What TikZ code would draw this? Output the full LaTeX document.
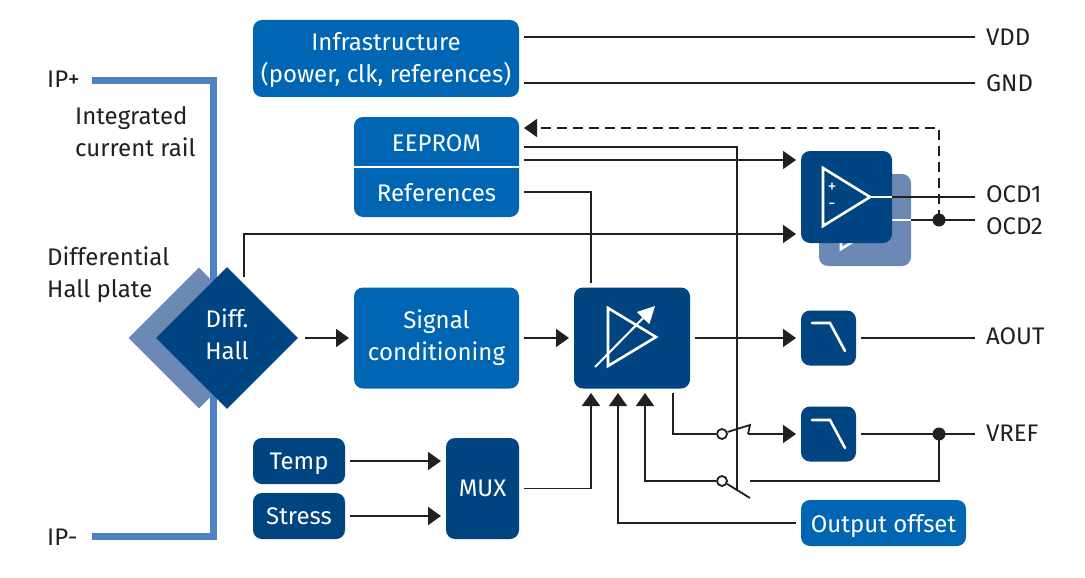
\documentclass[tikz,border=0pt]{standalone}
\usepackage{fontspec}
\setmainfont{Fira Sans}
\usetikzlibrary{arrows.meta,shapes.geometric}
\definecolor{ifxblue}{HTML}{0066B3}
\definecolor{ifxdark}{HTML}{004481}
\definecolor{ifxpale}{HTML}{6C88B5}
\definecolor{ifxrail}{HTML}{4F81C4}
\definecolor{ifxtext}{HTML}{231F20}
\tikzset{>={Triangle[length=13pt,width=18pt]}}
\tikzset{
  box/.style={rectangle,rounded corners=9pt,inner sep=0pt,outer sep=5pt,text=white,align=center,
    font=\fontsize{24}{32}\selectfont},
  oneline/.style={text depth=0pt},
  bluebox/.style={box,fill=ifxblue},
  darkbox/.style={box,fill=ifxdark},
  boxtext/.style={inner sep=0pt,text=white,align=center,font=\fontsize{24}{32}\selectfont},
  extlabel/.style={anchor=west,inner sep=0pt,outer sep=11pt,text=ifxtext,font=\fontsize{24}{32}\selectfont},
  note/.style={anchor=west,inner sep=0pt,align=left,text=ifxtext,font=\fontsize{24}{32}\selectfont},
  conn/.style={line width=1.8pt,draw=ifxtext},
  symbol/.style={draw=white,line width=2.6pt},
  contact/.style={circle,draw=ifxtext,line width=1.8pt,fill=white,minimum size=10pt,inner sep=0pt},
}
\begin{document}
\begin{tikzpicture}[x=1pt,y=-1pt]
	\useasboundingbox (0,0) rectangle (1085,578);
	% current rail and hall plate
	\draw[ifxrail,line width=7pt] (92,81) -- (213,81) -- (213,536) -- (92,536);
	\node[diamond,fill=ifxpale,minimum width=141pt,minimum height=141pt,inner sep=0pt] (hallback) at (199,338) {};
	\node[diamond,fill=ifxdark,minimum width=146pt,minimum height=146pt,inner sep=0pt,outer sep=5pt] (hall) at (227,338) {};
	\node[boxtext] (halltext) at (227,334) {Diff.\\Hall};
	\node[note] (iplus) at (47,79) {IP+};
	\node[note] (iminus) at (47,537) {IP-};
	\node[note] (railtext) at (75,132) {Integrated\\current rail};
	\node[note] (platetext) at (47,275) {Differential\\Hall plate};

	% blocks
	\node[bluebox,minimum width=266pt,minimum height=77pt] (infra) at (386,58.5) {};
	\node[boxtext] (infratext) at (386,60) {Infrastructure\\(power, clk, references)};
	\node[bluebox,minimum width=165pt,minimum height=100pt] (memory) at (436.5,167) {};
	\draw[white,line width=2.4pt] (354,167) -- (519,167);
	\node[boxtext] (eeprom) at (436.5,143) {EEPROM};
	\node[boxtext] (references) at (436.5,193) {References};
	\node[bluebox,minimum width=165pt,minimum height=101pt] (signal) at (436.5,338) {Signal\\conditioning};
	\node[darkbox,minimum width=116pt,minimum height=101pt] (gain) at (632,338) {};
	\node[darkbox,oneline,minimum width=92pt,minimum height=46pt] (temp) at (299,461) {Temp};
	\node[darkbox,oneline,minimum width=92pt,minimum height=46pt] (stress) at (299,516) {Stress};
	\node[darkbox,oneline,minimum width=73pt,minimum height=101pt] (mux) at (482.5,488.5) {MUX};
	\node[bluebox,oneline,minimum width=165pt,minimum height=46pt] (offset) at (883.5,523) {Output offset};
	\node[darkbox,minimum width=55pt,minimum height=55pt] (filtera) at (828.5,338) {};
	\node[darkbox,minimum width=55pt,minimum height=55pt] (filterb) at (828.5,434) {};

	% comparators, back one first
	\node[box,fill=ifxpale,minimum width=92pt,minimum height=92pt] (compback) at (865,220) {};
	\draw[symbol] (841,191) -- (888,220) -- (841,249) -- cycle;
	\draw[white,line width=2pt] (892,220) -- (911,220);
	\node[darkbox,minimum width=91pt,minimum height=92pt] (comp) at (846.5,197) {};
	\draw[symbol] (823,168) -- (870,197) -- (823,226) -- cycle;
	\draw[white,line width=2pt] (870,197) -- (892,197);
	\node[inner sep=0pt,text=white,font=\fontsize{18}{18}\selectfont] (plus) at (832,188) {+};
	\node[inner sep=0pt,text=white,font=\fontsize{18}{18}\selectfont] (minus) at (832,206) {-};

	% symbols in the blocks
	\draw[symbol] (608,308) -- (656,337) -- (608,366) -- cycle;
	\draw[white,line width=2pt,-{Triangle[length=17pt,width=17pt]}] (595,367) -- (655,306);
	\draw[symbol,line cap=round] (812,323) -- (830,323) -- (845,351);
	\draw[symbol,line cap=round] (812,420) -- (830,420) -- (845,448);

	% outputs
	\node[extlabel] (vdd) at (975,37) {VDD};
	\node[extlabel] (gnd) at (975,83) {GND};
	\node[extlabel] (ocda) at (975,194) {OCD1};
	\node[extlabel] (ocdb) at (975,226) {OCD2};
	\node[extlabel] (aout) at (975,336) {AOUT};
	\node[extlabel] (vref) at (975,433) {VREF};
	\draw[conn] (infra.east |- 0,37) -- (vdd.west |- 0,37);
	\draw[conn] (infra.east |- 0,83) -- (gnd.west |- 0,83);
	\draw[conn] (892,197) -- (ocda.west |- 0,197);
	\draw[conn] (911,220) -- (ocdb.west |- 0,220);
	\draw[conn] (filtera.east) -- (aout.west |- filtera.east);
	\draw[conn] (filterb.east) -- (vref.west |- filterb.east);

	% junctions
	\fill[ifxtext] (939,220) circle (6.5pt) coordinate (ocddot);
	\fill[ifxtext] (939,434) circle (6.5pt) coordinate (vrefdot);
	\draw[conn,dash pattern=on 10pt off 6pt,->] (ocddot) |- (memory.east |- 0,128);

	% signal path
	\draw[conn,->] (hall.east) -- (signal.west);
	\draw[conn,->] (signal.east) -- (gain.west);
	\draw[conn,->] (gain.east) -- (filtera.west);
	\draw[conn,->] (temp.east) -- (mux.west |- temp.east);
	\draw[conn,->] (stress.east) -- (mux.west |- stress.east);
	\draw[conn,->] (mux.east) -| (591,393);
	\draw[conn,->] (offset.west) -| (618,393);
	\coordinate (halltap) at (244,277);
	\draw[conn,->] (halltap) |- (comp.west |- 0,234);
	\draw[conn,->] (memory.east |- 0,160) -- (comp.west |- 0,160);
	\draw[conn] (memory.east |- 0,192) -| (591,283);

	% switches
	\node[contact] (swa) at (722,434) {};
	\node[contact] (swb) at (722,481) {};
	\coordinate (swctrl) at (737,490);
	\draw[conn] (memory.east |- 0,147) -| (swctrl);
	\draw[conn] (swa.20) -- (750,425) -- (748,434);
	\draw[conn,->] (748,434) -- (filterb.west);
	\draw[conn] (673,393) -- (673,434) -- (swa.west);
	\draw[conn,<-] (645,393) -- (645,481) -- (swb.west);
	\draw[conn] (swb.-30) -- (750,498);
	\draw[conn] (vrefdot) |- (750,481);
\end{tikzpicture}
\end{document}
